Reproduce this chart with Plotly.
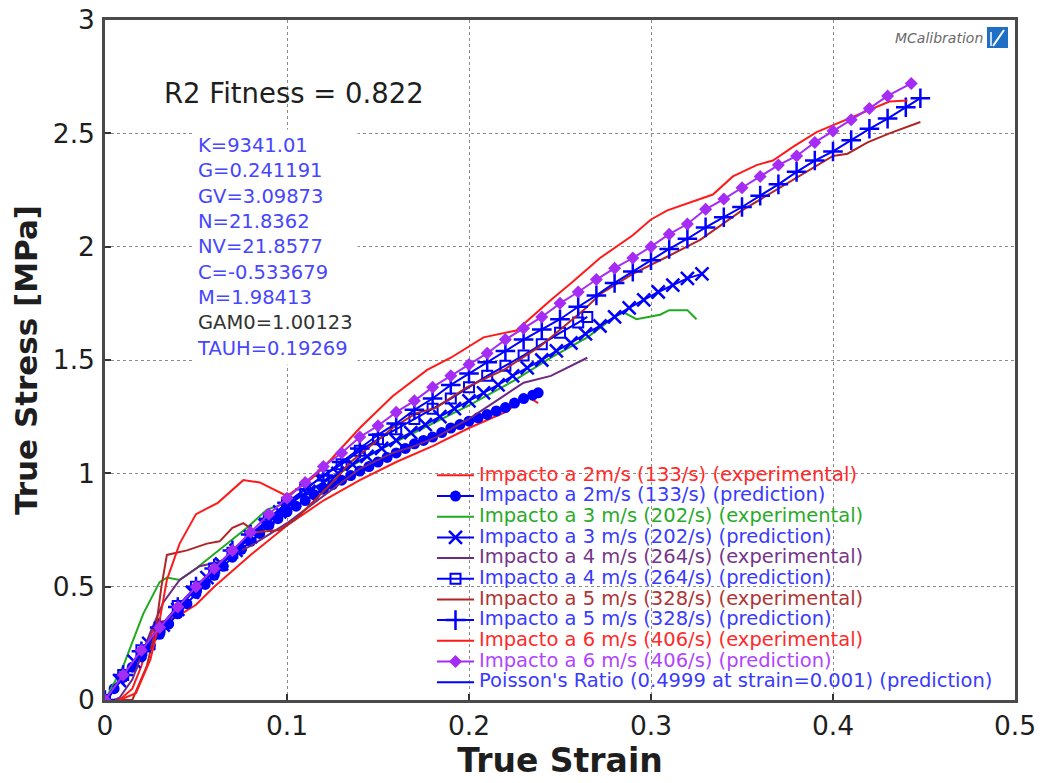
import plotly.graph_objects as go

# ---------------- data ----------------
exp2_x = [0, 0.008, 0.015, 0.02, 0.025, 0.028, 0.033, 0.04, 0.05, 0.06, 0.08, 0.1, 0.12, 0.14, 0.16, 0.18, 0.2, 0.22, 0.232, 0.238]
exp2_y = [0, 0.0, 0.05, 0.15, 0.28, 0.34, 0.35, 0.37, 0.42, 0.5, 0.64, 0.77, 0.88, 0.97, 1.05, 1.12, 1.2, 1.27, 1.34, 1.31]

pred2_x = [0, 0.005, 0.01, 0.015, 0.02, 0.025, 0.03, 0.035, 0.04, 0.045, 0.05, 0.055, 0.06, 0.065, 0.07, 0.075,
           0.08, 0.085, 0.09, 0.095, 0.1, 0.105, 0.11, 0.115, 0.12, 0.125, 0.13, 0.135, 0.14, 0.145, 0.15, 0.155,
           0.16, 0.165, 0.17, 0.175, 0.18, 0.185, 0.19, 0.195, 0.2, 0.205, 0.21, 0.215, 0.22, 0.225, 0.23, 0.235, 0.238]
pred2_y = [0, 0.05, 0.10, 0.145, 0.19, 0.24, 0.29, 0.335, 0.38, 0.425, 0.47, 0.51, 0.55, 0.59, 0.63, 0.665,
           0.70, 0.735, 0.77, 0.80, 0.83, 0.855, 0.88, 0.905, 0.93, 0.95, 0.97, 0.99, 1.01, 1.03, 1.05, 1.07,
           1.09, 1.11, 1.13, 1.145, 1.16, 1.18, 1.20, 1.215, 1.23, 1.245, 1.26, 1.275, 1.29, 1.31, 1.33, 1.345, 1.355]

exp3_x = [0, 0.01, 0.021, 0.03, 0.034, 0.041, 0.05, 0.067, 0.078, 0.089, 0.1, 0.12, 0.15, 0.175, 0.2, 0.225, 0.245,
          0.265, 0.28, 0.285, 0.292, 0.305, 0.31, 0.32, 0.325]
exp3_y = [0, 0.15, 0.38, 0.52, 0.54, 0.53, 0.58, 0.69, 0.76, 0.84, 0.87, 0.96, 1.1, 1.2, 1.3, 1.41, 1.51,
          1.6, 1.69, 1.71, 1.68, 1.70, 1.72, 1.72, 1.68]

pred3_x = [0, 0.008, 0.016, 0.024, 0.032, 0.040, 0.048, 0.056, 0.064, 0.072, 0.080, 0.088, 0.096, 0.104, 0.112,
           0.120, 0.128, 0.136, 0.144, 0.152, 0.160, 0.168, 0.176, 0.184, 0.192, 0.200, 0.208, 0.216, 0.224,
           0.232, 0.240, 0.248, 0.256, 0.264, 0.272, 0.280, 0.288, 0.296, 0.304, 0.312, 0.320, 0.328]
pred3_y = [0, 0.085, 0.17, 0.25, 0.33, 0.40, 0.475, 0.54, 0.60, 0.66, 0.72, 0.77, 0.83, 0.88, 0.92,
           0.96, 1.0, 1.04, 1.075, 1.11, 1.145, 1.18, 1.215, 1.25, 1.285, 1.32, 1.355, 1.39, 1.43,
           1.465, 1.50, 1.54, 1.575, 1.615, 1.65, 1.69, 1.73, 1.765, 1.80, 1.83, 1.86, 1.88]

exp4_x = [0.005, 0.008, 0.015, 0.025, 0.032, 0.041, 0.052, 0.063, 0.07, 0.08, 0.09, 0.1, 0.11, 0.12, 0.13, 0.14,
          0.158, 0.17, 0.182, 0.2, 0.215, 0.23, 0.245, 0.255, 0.265]
exp4_y = [0, 0.01, 0.09, 0.30, 0.43, 0.53, 0.59, 0.61, 0.64, 0.68, 0.73, 0.78, 0.84, 0.9, 0.96, 1.02,
          1.09, 1.12, 1.16, 1.24, 1.32, 1.4, 1.43, 1.47, 1.51]

pred4_x = [0, 0.01, 0.02, 0.03, 0.04, 0.05, 0.06, 0.07, 0.08, 0.09, 0.10, 0.11, 0.12, 0.13, 0.14, 0.15, 0.16,
           0.17, 0.18, 0.19, 0.20, 0.21, 0.22, 0.23, 0.24, 0.25, 0.26, 0.265]
pred4_y = [0, 0.11, 0.22, 0.32, 0.415, 0.50, 0.58, 0.65, 0.72, 0.80, 0.87, 0.93, 0.99, 1.04, 1.10, 1.15, 1.195,
           1.24, 1.285, 1.33, 1.38, 1.43, 1.475, 1.52, 1.57, 1.62, 1.665, 1.69]

exp5_x = [0.008, 0.015, 0.023, 0.028, 0.031, 0.034, 0.045, 0.056, 0.063, 0.07, 0.076, 0.083, 0.096, 0.105, 0.115,
          0.125, 0.135, 0.158, 0.171, 0.182, 0.199, 0.219, 0.239, 0.254, 0.263, 0.272, 0.29, 0.31, 0.327, 0.35,
          0.375, 0.39, 0.4, 0.408, 0.419, 0.431, 0.448]
exp5_y = [0, 0.0, 0.15, 0.32, 0.5, 0.64, 0.66, 0.69, 0.70, 0.76, 0.78, 0.74, 0.75, 0.80, 0.88,
          0.96, 1.05, 1.2, 1.265, 1.29, 1.38, 1.456, 1.56, 1.66, 1.72, 1.79, 1.88, 1.96, 2.03, 2.16,
          2.28, 2.355, 2.40, 2.41, 2.46, 2.5, 2.55]

pred5_x = [0, 0.01, 0.02, 0.03, 0.04, 0.05, 0.06, 0.07, 0.08, 0.09, 0.10, 0.11, 0.12, 0.13, 0.14, 0.15, 0.16,
           0.17, 0.18, 0.19, 0.20, 0.21, 0.22, 0.23, 0.24, 0.25, 0.26, 0.27, 0.28, 0.29, 0.30, 0.31, 0.32, 0.33,
           0.34, 0.35, 0.36, 0.37, 0.38, 0.39, 0.40, 0.41, 0.42, 0.43, 0.44, 0.448]
pred5_y = [0, 0.11, 0.215, 0.32, 0.41, 0.50, 0.58, 0.66, 0.73, 0.80, 0.87, 0.93, 0.99, 1.05, 1.11, 1.17, 1.22,
           1.28, 1.33, 1.39, 1.44, 1.49, 1.54, 1.59, 1.635, 1.68, 1.735, 1.785, 1.84, 1.89, 1.94, 1.99, 2.035, 2.085,
           2.13, 2.175, 2.225, 2.275, 2.33, 2.38, 2.42, 2.47, 2.52, 2.565, 2.615, 2.655]

exp6_x = [0.008, 0.017, 0.025, 0.03, 0.034, 0.041, 0.05, 0.062, 0.076, 0.085, 0.1, 0.114, 0.124, 0.14, 0.158,
          0.177, 0.19, 0.208, 0.226, 0.245, 0.257, 0.272, 0.29, 0.3, 0.309, 0.323, 0.334, 0.345, 0.358, 0.367,
          0.378, 0.391, 0.404, 0.419, 0.431, 0.441]
exp6_y = [0, 0.03, 0.18, 0.35, 0.53, 0.69, 0.82, 0.87, 0.97, 0.96, 0.9, 0.98, 1.06, 1.2, 1.34,
          1.456, 1.51, 1.60, 1.63, 1.765, 1.845, 1.95, 2.05, 2.12, 2.16, 2.2, 2.23, 2.31, 2.36, 2.38,
          2.44, 2.505, 2.55, 2.6, 2.64, 2.645]

pred6_x = [0, 0.01, 0.02, 0.03, 0.04, 0.05, 0.06, 0.07, 0.08, 0.09, 0.10, 0.11, 0.12, 0.13, 0.14, 0.15, 0.16,
           0.17, 0.18, 0.19, 0.20, 0.21, 0.22, 0.23, 0.24, 0.25, 0.26, 0.27, 0.28, 0.29, 0.30, 0.31, 0.32, 0.33,
           0.34, 0.35, 0.36, 0.37, 0.38, 0.39, 0.40, 0.41, 0.42, 0.43, 0.443]
pred6_y = [0, 0.11, 0.22, 0.32, 0.41, 0.5, 0.58, 0.66, 0.74, 0.82, 0.89, 0.96, 1.03, 1.09, 1.16, 1.21, 1.27,
           1.32, 1.38, 1.43, 1.48, 1.53, 1.59, 1.64, 1.69, 1.75, 1.80, 1.855, 1.905, 1.95, 2.0, 2.055, 2.10, 2.165,
           2.21, 2.26, 2.31, 2.36, 2.40, 2.46, 2.51, 2.56, 2.61, 2.665, 2.72]

series_names = [
    "Impacto a 2m/s (133/s) (experimental)",
    "Impacto a 2m/s (133/s) (prediction)",
    "Impacto a 3 m/s (202/s) (experimental)",
    "Impacto a 3 m/s (202/s) (prediction)",
    "Impacto a 4 m/s (264/s) (experimental)",
    "Impacto a 4 m/s (264/s) (prediction)",
    "Impacto a 5 m/s (328/s) (experimental)",
    "Impacto a 5 m/s (328/s) (prediction)",
    "Impacto a 6 m/s (406/s) (experimental)",
    "Impacto a 6 m/s (406/s) (prediction)",
    "Poisson's Ratio (0.4999 at strain=0.001) (prediction)",
]

params_lines = ["K=9341.01", "G=0.241191", "GV=3.09873", "N=21.8362", "NV=21.8577",
                "C=-0.533679", "M=1.98413", "GAM0=1.00123", "TAUH=0.19269"]
r2_text = "R2 Fitness = 0.822"

# ---------------- styling ----------------
FONT = "DejaVu Sans"
RED = "#ff1a1a"
BLUE = "#0000ff"
GREEN = "#1faa1f"
PURPLE = "#6e2a82"
BROWN = "#b02525"
VIOLET = "#a52cf5"

def lname(text, color):
    return '<span style="font-size:19.5px;color:%s">%s</span>' % (color, text)

fig = go.Figure()

fig.add_trace(go.Scatter(x=exp2_x, y=exp2_y, mode="lines", line=dict(color=RED, width=2),
                         name=lname(series_names[0], "#ff2a2a")))
fig.add_trace(go.Scatter(x=pred2_x, y=pred2_y, mode="lines+markers", line=dict(color=BLUE, width=2),
                         marker=dict(symbol="circle", size=11, color=BLUE),
                         name=lname(series_names[1], "#3a3aff")))
fig.add_trace(go.Scatter(x=exp3_x, y=exp3_y, mode="lines", line=dict(color=GREEN, width=2),
                         name=lname(series_names[2], "#2aaa2a")))
fig.add_trace(go.Scatter(x=pred3_x, y=pred3_y, mode="lines+markers", line=dict(color=BLUE, width=2),
                         marker=dict(symbol="x-thin-open", size=13, line=dict(color=BLUE, width=2.5)),
                         name=lname(series_names[3], "#3a3aff")))
fig.add_trace(go.Scatter(x=exp4_x, y=exp4_y, mode="lines", line=dict(color=PURPLE, width=2),
                         name=lname(series_names[4], "#76358a")))
fig.add_trace(go.Scatter(x=pred4_x, y=pred4_y, mode="lines+markers", line=dict(color=BLUE, width=2),
                         marker=dict(symbol="square-open", size=10, line=dict(color=BLUE, width=2)),
                         name=lname(series_names[5], "#3a3aff")))
fig.add_trace(go.Scatter(x=exp5_x, y=exp5_y, mode="lines", line=dict(color=BROWN, width=2),
                         name=lname(series_names[6], "#b03535")))
fig.add_trace(go.Scatter(x=pred5_x, y=pred5_y, mode="lines+markers", line=dict(color=BLUE, width=2),
                         marker=dict(symbol="cross-thin-open", size=14, line=dict(color=BLUE, width=2.5)),
                         name=lname(series_names[7], "#3a3aff")))
fig.add_trace(go.Scatter(x=exp6_x, y=exp6_y, mode="lines", line=dict(color=RED, width=2),
                         name=lname(series_names[8], "#ff2a2a")))
fig.add_trace(go.Scatter(x=pred6_x, y=pred6_y, mode="lines+markers", line=dict(color=VIOLET, width=2),
                         marker=dict(symbol="diamond", size=10, color=VIOLET),
                         name=lname(series_names[9], "#b045ff")))
fig.add_trace(go.Scatter(x=[None], y=[None], mode="lines", line=dict(color=BLUE, width=2),
                         name=lname(series_names[10], "#3a3aff")))

# paper coordinate helpers (plot area: x 105..1015, y 20..700 px)
def px(xp):
    return (xp - 105) / 910.0

def py(yp):
    return (700 - yp) / 680.0

fig.add_annotation(x=px(294), y=py(93), xref="paper", yref="paper", text=r2_text, showarrow=False,
                   font=dict(family=FONT, size=27.5, color="#1e1e1e"), xanchor="center", yanchor="middle")

param_colors = ["#4646ff"] * 7 + ["#333333", "#4646ff"]
params_html = "<br>".join('<span style="color:%s">%s</span>' % (c, t) for t, c in zip(params_lines, param_colors))
fig.add_annotation(x=px(192), y=py(247), xref="paper", yref="paper", text=params_html, showarrow=False,
                   align="left", xanchor="left", yanchor="middle", bgcolor="white", borderpad=4,
                   font=dict(family=FONT, size=19.5, color="#4646ff"))

# logo
fig.add_annotation(x=px(985), y=py(38), xref="paper", yref="paper", text="<i>MCalibration</i>",
                   showarrow=False, xanchor="right", yanchor="middle",
                   font=dict(family=FONT, size=14, color="#6a6a6a"))
fig.add_shape(type="rect", xref="paper", yref="paper", x0=px(987), x1=px(1008), y0=py(48), y1=py(27),
              fillcolor="#1f6fc4", line=dict(width=0))
fig.add_shape(type="line", xref="paper", yref="paper", x0=px(993), x1=px(1004), y0=py(46), y1=py(30),
              line=dict(color="white", width=2))
fig.add_shape(type="line", xref="paper", yref="paper", x0=px(991), x1=px(991), y0=py(46), y1=py(32),
              line=dict(color="white", width=1.5))

axis_common = dict(
    showline=True, linecolor="#4a4a4a", linewidth=2.5, mirror=True,
    ticks="inside", ticklen=6, tickwidth=2, tickcolor="#333333",
    showgrid=True, gridcolor="#8c8c8c", gridwidth=1.3, griddash="dot",
    zeroline=False, automargin=False,
    tickfont=dict(family=FONT, size=26.5, color="#1e1e1e"),
)

fig.update_xaxes(range=[0, 0.5], dtick=0.1, tick0=0,
                 title=dict(text="<b>True Strain</b>", font=dict(family=FONT, size=33, color="#1e1e1e"), standoff=10),
                 ticklabelstandoff=0, **axis_common)
fig.update_yaxes(range=[0, 3], dtick=0.5, tick0=0,
                 title=dict(text="<b>True Stress [MPa]</b>", font=dict(family=FONT, size=31, color="#1e1e1e"), standoff=6),
                 ticklabelstandoff=2, **axis_common)

fig.update_layout(
    width=1042, height=783,
    margin=dict(l=105, r=27, t=20, b=83),
    paper_bgcolor="white", plot_bgcolor="white",
    font=dict(family=FONT),
    showlegend=True,
    legend=dict(x=px(432), y=py(460), xanchor="left", yanchor="top",
                bgcolor="rgba(0,0,0,0)", borderwidth=0, itemwidth=37,
                font=dict(family=FONT, size=13.6), tracegroupgap=0),
)

fig.write_html("out.html")
